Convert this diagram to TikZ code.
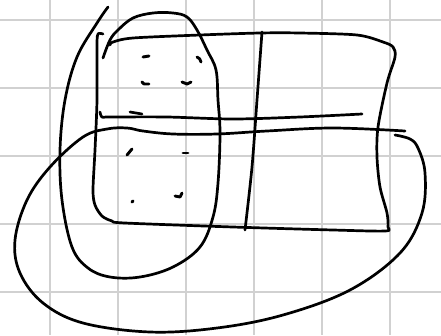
\documentclass[tikz,border=0pt]{standalone}
\usepackage{tikz}
\tikzset{
  gridline/.style={draw=black!18, line width=1.6pt},
  pen/.style={draw=black, line width=2.7pt, line cap=round, line join=round},
  dotpen/.style={pen, line width=2.9pt},
}

\begin{document}
\begin{tikzpicture}[x=1pt, y=-1pt]
\useasboundingbox (0,0) rectangle (441,335);
% grid paper
\foreach \gx in {50,118,...,390} \draw[gridline] (\gx,0) -- (\gx,335);
\foreach \gy in {20,88,...,292} \draw[gridline] (0,\gy) -- (441,\gy);
% tall loop
\draw[pen] plot[smooth, tension=0.6] coordinates {(108,7) (97,23) (77,57) (65,100) (60,150) (62,200) (72,247) (88,268) (110,277) (140,277) (173,267) (200,247) (213,217) (218,183) (220,133) (218,100) (216,70) (207,50) (197,30) (187,17) (173,13) (153,13) (133,18) (118,30) (110,40) (103,58)};
% box
\draw[pen] plot[smooth, tension=0.5] coordinates {(103,34) (98,34) (97,45) (97,100) (95,150) (93,190) (95,205) (102,216) (112,221) (125,223) (233,227) (333,230) (385,231) (388,227) (387,213) (380,187) (377,157) (378,127) (387,83) (395,57) (393,47) (383,42) (357,35) (300,33) (260,33) (200,35) (133,38) (113,42) (110,45)};
% divider
\draw[pen] plot[smooth] coordinates {(262,32) (257,100) (252,167) (245,230)};
% middle line
\draw[pen] plot[smooth, tension=0.5] coordinates {(100,112) (102,117) (110,117) (167,117) (233,119) (300,117) (362,114)};
\draw[pen] (130,112) -- (142,114);
% big loop
\draw[pen] plot[smooth, tension=0.6] coordinates {(395,135) (410,139) (418,148) (425,173) (422,213) (400,253) (350,290) (283,315) (217,328) (150,332) (83,323) (43,303) (20,273) (15,240) (27,200) (50,167) (83,137) (107,129) (127,128) (143,131) (173,134) (217,134) (267,131) (333,128) (405,131)};
% marks, upper cell
\draw[dotpen] (143,57) -- (149,56);
\draw[dotpen] (197,57) to[bend left=30] (201,62);
\draw[dotpen] (142,82) -- (144,84) -- (149,84);
\draw[dotpen] (182,82) -- (187,84) -- (191,82);
% marks, lower cell
\draw[dotpen] (127,155) -- (132,149);
\draw[dotpen] (183,153) -- (188,153);
\draw[dotpen] (132,202) -- (133,201);
\draw[dotpen] (175,196) -- (180,197) -- (182,193);
\end{tikzpicture}
\end{document}
